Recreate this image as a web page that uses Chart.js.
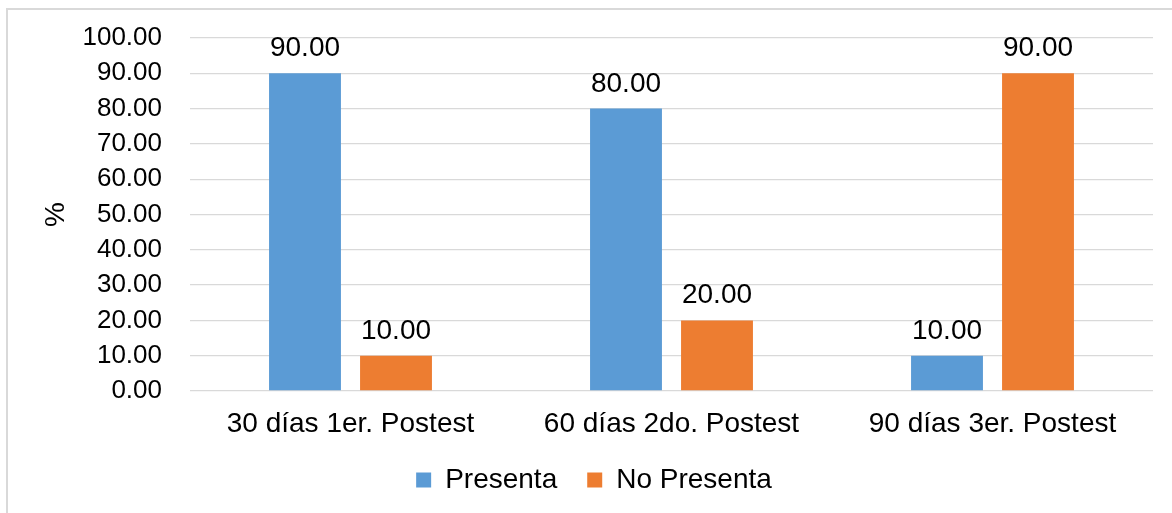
<!DOCTYPE html>
<html>
<head>
<meta charset="utf-8">
<script src="https://cdn.jsdelivr.net/npm/chart.js@4"></script>
<style>
  html, body { margin: 0; padding: 0; background: #fff; overflow: hidden; }
  #frame { position: absolute; left: 6px; top: 8px; width: 1200px; height: 600px; border: 2px solid #d9d9d9; }
  #wrap { position: absolute; left: 0; top: 0; width: 1172px; height: 513px; }
</style>
</head>
<body>
<div id="frame"></div>
<div id="wrap"><canvas id="chart" width="1172" height="513"></canvas></div>
<script>
const categories = ["30 días 1er. Postest", "60 días 2do. Postest", "90 días 3er. Postest"];
const presenta = [90, 80, 10];
const noPresenta = [10, 20, 90];
const seriesNames = ["Presenta", "No Presenta"];

const FONT = "'Liberation Sans', Arial, sans-serif";

// values above each bar
const valueLabels = {
  id: "valueLabels",
  afterDatasetsDraw(chart) {
    const ctx = chart.ctx;
    ctx.save();
    ctx.font = "28px " + FONT;
    ctx.fillStyle = "#000";
    ctx.textAlign = "center";
    ctx.textBaseline = "alphabetic";
    chart.data.datasets.forEach((ds, di) => {
      chart.getDatasetMeta(di).data.forEach((bar, i) => {
        ctx.fillText(ds.data[i].toFixed(2), bar.x, bar.y - 17);
      });
    });
    ctx.restore();
  }
};

const ctx = document.getElementById("chart").getContext("2d");
new Chart(ctx, {
  type: "bar",
  data: {
    labels: categories,
    datasets: [
      { label: seriesNames[0], data: presenta, backgroundColor: "#5B9BD5",
        categoryPercentage: 0.567, barPercentage: 0.79 },
      { label: seriesNames[1], data: noPresenta, backgroundColor: "#ED7D31",
        categoryPercentage: 0.567, barPercentage: 0.79 }
    ]
  },
  options: {
    responsive: false,
    animation: false,
    layout: { padding: { top: 38, left: 35, right: 19, bottom: 9 } },
    plugins: {
      tooltip: { enabled: false },
      legend: {
        position: "bottom",
        labels: {
          boxWidth: 15, boxHeight: 15, padding: 30,
          color: "#000", font: { family: FONT, size: 28 }
        }
      }
    },
    scales: {
      x: {
        afterFit(scale) { scale.height = 45; },
        grid: { display: false, drawTicks: false },
        border: { display: false },
        ticks: { color: "#000", padding: 16, font: { family: FONT, size: 28 } }
      },
      y: {
        min: 0, max: 100,
        afterFit(scale) { scale.width = 155; },
        grid: { color: "#d9d9d9", lineWidth: 1.3, drawTicks: false },
        border: { display: false },
        ticks: {
          stepSize: 10, color: "#000", padding: 28,
          font: { family: FONT, size: 26, lineHeight: 0.7 },
          callback: v => Number(v).toFixed(2)
        },
        title: { display: true, text: "%", color: "#000", font: { family: FONT, size: 28 } }
      }
    }
  },
  plugins: [valueLabels]
});
</script>
</body>
</html>
